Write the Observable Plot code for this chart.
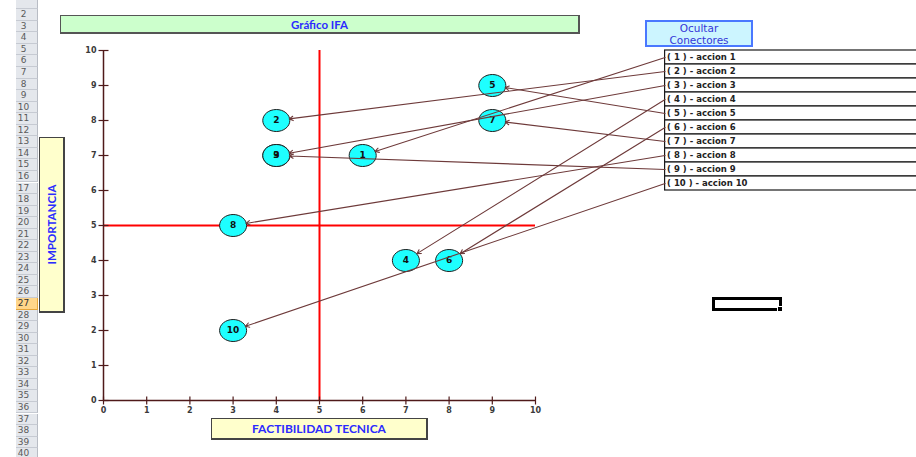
<!DOCTYPE html>
<html>
<head>
<meta charset="utf-8">
<script src="https://cdn.jsdelivr.net/npm/d3@7"></script>
<script src="https://cdn.jsdelivr.net/npm/@observablehq/plot@0.6"></script>
<style>
  html, body { margin: 0; padding: 0; background: #fff; overflow: hidden; }
  #page { position: relative; width: 916px; height: 457px; overflow: hidden; font-family: "DejaVu Sans", sans-serif; }
  .rowhdr { position: absolute; left: 16px; width: 22px; box-sizing: border-box; background: #e4e7ec; border-bottom: 1px solid #c6cad2; border-right: 1px solid #b8bcc4; color: #5a5a5a; font-size: 9px; text-align: center; padding-right: 6px; }
  .rowhdr.sel { background: #ffd68a; border-bottom: 1px solid #e5a53a; border-right: 1px solid #e5a53a; color: #333; }
  .box { position: absolute; box-sizing: border-box; display: flex; align-items: center; justify-content: center; font-family: Lato, "Open Sans", sans-serif; font-weight: bold; color: #2b2bff; }
  #chart { position: absolute; left: 0; top: 0; }
</style>
</head>
<body>
<div id="page"></div>
<script>
// ---- data ----
const ids = [1, 2, 3, 4, 5, 6, 7, 8, 9, 10];
const acciones = ["accion 1", "accion 2", "accion 3", "accion 4", "accion 5", "accion 6", "accion 7", "accion 8", "accion 9", "accion 10"];
const factibilidad = [6, 4, 4, 7, 9, 8, 9, 3, 4, 3];   // x: FACTIBILIDAD TECNICA
const importancia  = [7, 8, 7, 4, 9, 4, 8, 5, 7, 2];   // y: IMPORTANCIA
const axisTicks = [0, 1, 2, 3, 4, 5, 6, 7, 8, 9, 10];
const rowNumbers = d3.range(1, 41);
const title = "Gráfico IFA";
const xTitle = "FACTIBILIDAD TECNICA";
const yTitle = "IMPORTANCIA";
const buttonText = ["Ocultar", "Conectores"];

// ---- layout of the legend table in data units (to the right of the plot) ----
const legendX = 13, legendRowH = 0.4, legendTop = 10, legendRight = 19;
const pts = ids.map((id, i) => ({
  id, x: factibilidad[i], y: importancia[i],
  label: `( ${id} ) - ${acciones[i]}`,
  lx: legendX,
  ly: legendTop - legendRowH * (i + 0.5),
  ly1: legendTop - legendRowH * i,
  ly2: legendTop - legendRowH * (i + 1)
}));

const page = document.getElementById("page");

// ---- spreadsheet chrome ----
const rowH = 11.55, row1Top = -2.3;
rowNumbers.forEach((n, i) => {
  const d = document.createElement("div");
  d.className = "rowhdr" + (n === 27 ? " sel" : "");
  d.style.top = (row1Top + i * rowH) + "px";
  d.style.height = rowH + "px";
  d.style.lineHeight = rowH + "px";
  d.textContent = n === 1 ? "" : n;   // row 1 is scrolled almost out of view
  page.appendChild(d);
});

function box(left, top, w, h, bg, border, html, extra) {
  const d = document.createElement("div");
  d.className = "box";
  Object.assign(d.style, {left: left + "px", top: top + "px", width: w + "px", height: h + "px", background: bg, border}, extra || {});
  d.innerHTML = html;
  page.appendChild(d);
  return d;
}
box(60, 15, 520, 19, "#ccffcc", "1px solid #555", title, {fontSize: "11.5px", borderRightWidth: "2px", borderBottomWidth: "2px"});
box(211, 418, 217, 22, "#ffffcc", "1px solid #444", xTitle, {fontSize: "12px", borderRightWidth: "2px", borderBottomWidth: "2px"});
box(39, 137, 26, 176, "#ffffcc", "1px solid #444", `<span style="display:inline-block;transform:rotate(-90deg);white-space:nowrap">${yTitle}</span>`, {fontSize: "11.5px", borderRightWidth: "2px", borderBottomWidth: "2px"});
box(645, 20, 108, 27, "#ccf5ff", "2px solid #4a78ff", buttonText.join("<br>"), {fontFamily: '"DejaVu Sans", sans-serif', fontWeight: "normal", fontSize: "10.5px", lineHeight: "12px", color: "#3535d8", textAlign: "center", flexDirection: "column"});
// selected cell
box(712, 297, 70, 14, "transparent", "3px solid #000", "", {});
box(777, 306, 6, 6, "#000", "1px solid #fff", "", {});

// ---- chart ----
const axisColor = "#4f1a1a";
const connColor = "#6e3a3a";
const sym = (f) => ({draw(ctx, size) { f(ctx, Math.sqrt(size / Math.PI)); }});
const ellipse = sym((c, r) => {
  const rx = r * 1.23, ry = r, k = 0.5523;
  c.moveTo(rx, 0);
  c.bezierCurveTo(rx, ry * k, rx * k, ry, 0, ry);
  c.bezierCurveTo(-rx * k, ry, -rx, ry * k, -rx, 0);
  c.bezierCurveTo(-rx, -ry * k, -rx * k, -ry, 0, -ry);
  c.bezierCurveTo(rx * k, -ry, rx, -ry * k, rx, 0);
  c.closePath();
});
const vTick = sym((c, r) => { c.moveTo(0, -r); c.lineTo(0, r); });
const hTick = sym((c, r) => { c.moveTo(-r, 0); c.lineTo(r, 0); });

const chart = Plot.plot({
  width: 916, height: 457,
  marginLeft: 103, marginRight: 381, marginTop: 50, marginBottom: 57,
  x: {domain: [0, 10], axis: null},
  y: {domain: [0, 10], axis: null},
  style: {background: "transparent", fontFamily: '"DejaVu Sans", sans-serif', overflow: "visible"},
  marks: [
    Plot.ruleX([5], {y1: 0, y2: 10, stroke: "#ff0000", strokeWidth: 2}),
    Plot.ruleY([5], {x1: 0, x2: 10, stroke: "#ff0000", strokeWidth: 2}),
    Plot.ruleX([0], {y1: 0, y2: 10, stroke: axisColor, strokeWidth: 1.5}),
    Plot.ruleY([0], {x1: 0, x2: 10, stroke: axisColor, strokeWidth: 1.5}),
    Plot.dot(axisTicks, {x: d => d, y: 0, r: 4, symbol: vTick, stroke: axisColor, fill: "none", strokeWidth: 1.2}),
    Plot.dot(axisTicks, {x: 0, y: d => d, r: 5, symbol: hTick, stroke: axisColor, fill: "none", strokeWidth: 1.2}),
    Plot.text(axisTicks, {x: d => d, y: 0, dy: 10, text: d => String(d), fontSize: 8, fontWeight: "bold", fill: "#3a3a3a"}),
    Plot.text(axisTicks, {x: 0, y: d => d, dx: -7, textAnchor: "end", text: d => String(d), fontSize: 8, fontWeight: "bold", fill: "#3a3a3a"}),
    // legend table
    Plot.rect(pts, {x1: legendX, x2: legendRight, y1: "ly1", y2: "ly2", fill: "#fff", stroke: "#1a1a1a", strokeWidth: 1.2}),
    Plot.text(pts, {x: "lx", y: "ly", dx: 2, textAnchor: "start", text: "label", fontSize: 8.5, fontWeight: "bold", fill: "#222"}),
    // bubbles
    Plot.dot(pts, {x: "x", y: "y", r: 11, symbol: ellipse, fill: "#1effff", stroke: "#1f1f1f", strokeWidth: 1}),
    Plot.text(pts, {x: "x", y: "y", text: d => String(d.id), fontSize: 9, fontWeight: "bold", fill: "#111"}),
    // connectors
    Plot.arrow(pts, {x1: "lx", y1: "ly", x2: "x", y2: "y", insetEnd: 13, headLength: 6, stroke: connColor, strokeWidth: 1.1})
  ]
});
chart.id = "chart";
page.appendChild(chart);
</script>
</body>
</html>
